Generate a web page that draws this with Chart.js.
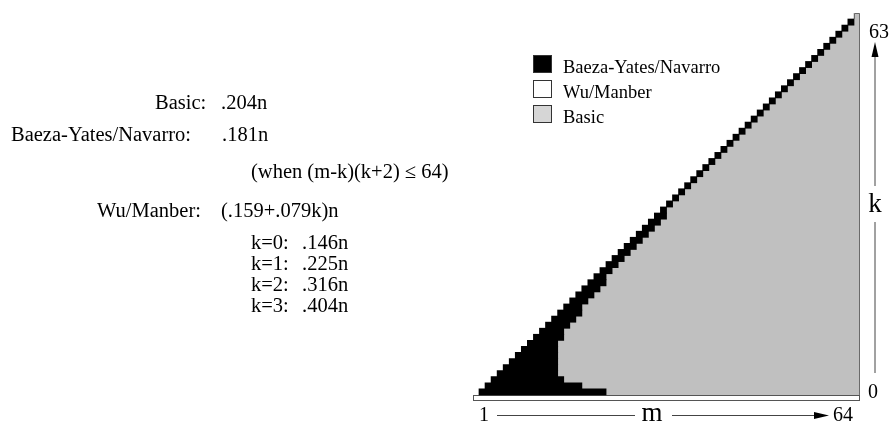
<!DOCTYPE html>
<html>
<head>
<meta charset="utf-8">
<script src="https://cdn.jsdelivr.net/npm/chart.js@4/dist/chart.umd.min.js"></script>
<style>
  html, body { margin: 0; padding: 0; background: #fff; }
  #wrap { width: 891px; height: 423px; position: relative; }
</style>
</head>
<body>
<div id="wrap"><canvas id="grafico"></canvas></div>
<script>
// filas: k = 0..63 (errores), columnas: m = 1..64 (largo del patron)
const filasK = Array.from({ length: 64 }, (_, k) => String(k));

// ultimo m (por fila k) donde gana Baeza-Yates/Navarro; 0 = ninguno
const bynUltimaM = [
    0, 22, 18, 15, 14, 14, 14, 14, 14, 14,
    15, 15, 16, 17, 18, 18, 19, 20, 21, 22,
    22, 23, 24, 25, 26, 27, 28, 29, 30, 31,
    32, 32, 33, 34, 35, 36, 37, 38, 39, 40,
    41, 42, 43, 44, 45, 46, 47, 48, 49, 50,
    51, 52, 53, 54, 55, 56, 57, 58, 59, 60,
    61, 62, 63, 0
];

// filas donde gana Wu/Manber en todo el rango de m
const wuManberFilas = [0];

const mMin = 1;
const mMax = 64;
const ticksK = ["0", "63"];
const ticksM = ["1", "64"];

const nombres = ["Baeza-Yates/Navarro", "Wu/Manber", "Basic"];
const colores = ["#000000", "#ffffff", "#c0c0c0"];

// armar barras flotantes [inicio, fin] sobre el eje m
const datosBYN = filasK.map((_, k) =>
    bynUltimaM[k] > k ? [k + 0.5, bynUltimaM[k] + 0.5] : null
);
const datosWu = filasK.map((_, k) =>
    wuManberFilas.includes(k) ? [mMin - 0.5, mMax + 0.5] : null
);
const datosBasic = filasK.map((_, k) => {
    if (wuManberFilas.includes(k)) return null;
    const desde = Math.max(bynUltimaM[k], k);
    return desde < mMax ? [desde + 0.5, mMax + 0.5] : null;
});

const serif = "'Liberation Serif', 'Times New Roman', serif";

const decoraciones = {
    id: "decoraciones",
    afterDatasetsDraw(chart) {
        // borde derecho de la zona gris y contorno de la celda k=63
        const c = chart.ctx;
        const x = chart.scales.x;
        const y = chart.scales.y;
        const xr = Math.round(x.getPixelForValue(mMax + 0.5)) - 0.5;
        const xl = x.getPixelForValue(mMax - 0.5);
        const yTop = y.getPixelForValue(63) - (y.getPixelForValue(62) - y.getPixelForValue(63)) / 2;
        const yBot = y.getPixelForValue(0) - (y.getPixelForValue(0) - y.getPixelForValue(1)) / 2;
        c.save();
        c.strokeStyle = "#6a6a6a";
        c.lineWidth = 1;
        c.beginPath();
        c.moveTo(Math.round(xl) + 0.5, yTop + 6);
        c.lineTo(Math.round(xl) + 0.5, Math.round(yTop) + 0.5);
        c.lineTo(xr, Math.round(yTop) + 0.5);
        c.lineTo(xr, yBot);
        c.stroke();
        c.restore();
    },
    afterDraw(chart) {
        const c = chart.ctx;
        const area = chart.chartArea;
        c.save();
        c.fillStyle = "#000";
        c.textBaseline = "alphabetic";
        c.textAlign = "left";

        // textos de la izquierda
        c.font = "20.5px " + serif;
        c.fillText("Basic:", 155, 109);
        c.fillText(".204n", 221, 109);
        c.fillText("Baeza-Yates/Navarro:", 11, 141);
        c.fillText(".181n", 222, 141);
        c.fillText("(when (m-k)(k+2) \u2264 64)", 251, 178);
        c.fillText("Wu/Manber:", 97, 217);
        c.fillText("(.159+.079k)n", 221, 217);
        const filasTexto = [["k=0:", ".146n"], ["k=1:", ".225n"], ["k=2:", ".316n"], ["k=3:", ".404n"]];
        filasTexto.forEach((f, i) => {
            c.fillText(f[0], 251, 249 + i * 21);
            c.fillText(f[1], 302, 249 + i * 21);
        });

        // leyenda
        c.font = "18.5px " + serif;
        nombres.forEach((n, i) => {
            const y = 55 + i * 25;
            c.fillStyle = i === 2 ? "#d6d6d6" : colores[i];
            c.fillRect(533.5, y + 0.5, 18, 17);
            c.strokeStyle = "#333";
            c.lineWidth = 1;
            c.strokeRect(533.5, y + 0.5, 18, 17);
            c.fillStyle = "#000";
            c.fillText(n, 563, y + 18);
        });

        // eje k (derecha)
        const xk = area.right + 15;
        c.strokeStyle = "#444";
        c.lineWidth = 1;
        c.beginPath();
        c.moveTo(xk, 55); c.lineTo(xk, 186);
        c.moveTo(xk, 222); c.lineTo(xk, 373);
        c.stroke();
        c.fillStyle = "#000";
        c.beginPath();
        c.moveTo(xk, 42); c.lineTo(xk - 3.5, 57); c.lineTo(xk + 3.5, 57);
        c.closePath(); c.fill();
        c.font = "20px " + serif;
        c.fillText(ticksK[1], 869, 38);
        c.fillText(ticksK[0], 868, 398);
        c.font = "27px " + serif;
        c.textAlign = "center";
        c.fillText("k", xk, 212);

        // eje m (abajo)
        const ym = 415.5;
        c.beginPath();
        c.moveTo(497, ym); c.lineTo(635, ym);
        c.moveTo(672, ym); c.lineTo(818, ym);
        c.stroke();
        c.beginPath();
        c.moveTo(829, ym); c.lineTo(814, ym - 3.5); c.lineTo(814, ym + 3.5);
        c.closePath(); c.fill();
        c.fillText("m", 652, 421);
        c.textAlign = "left";
        c.font = "20px " + serif;
        c.fillText(ticksM[0], 479, 421);
        c.fillText(ticksM[1], 833, 421);
        c.restore();
    }
};

const ctx = document.getElementById("grafico").getContext("2d");
const miGrafico = new Chart(ctx, {
    type: "bar",
    data: {
        labels: filasK,
        datasets: [
            {
                label: nombres[0],
                data: datosBYN,
                backgroundColor: colores[0],
                borderWidth: 0,
                inflateAmount: 0.4,
            },
            {
                label: nombres[1],
                data: datosWu,
                backgroundColor: colores[1],
                borderColor: "#555",
                borderWidth: 1,
                borderSkipped: false,
                inflateAmount: 0,
            },
            {
                label: nombres[2],
                data: datosBasic,
                backgroundColor: colores[2],
                borderWidth: 0,
                inflateAmount: 0.5,
            },
        ],
    },
    options: {
        indexAxis: "y",
        responsive: true,
        maintainAspectRatio: false,
        animation: false,
        grouped: false,
        barPercentage: 1,
        categoryPercentage: 1,
        layout: { padding: { left: 473, right: 31, top: 13, bottom: 22 } },
        plugins: {
            legend: { display: false },
            tooltip: { enabled: false },
        },
        scales: {
            x: { type: "linear", min: mMin - 0.5, max: mMax + 0.5, display: false },
            y: { type: "category", reverse: true, display: false },
        },
    },
    plugins: [decoraciones],
});
</script>
</body>
</html>
